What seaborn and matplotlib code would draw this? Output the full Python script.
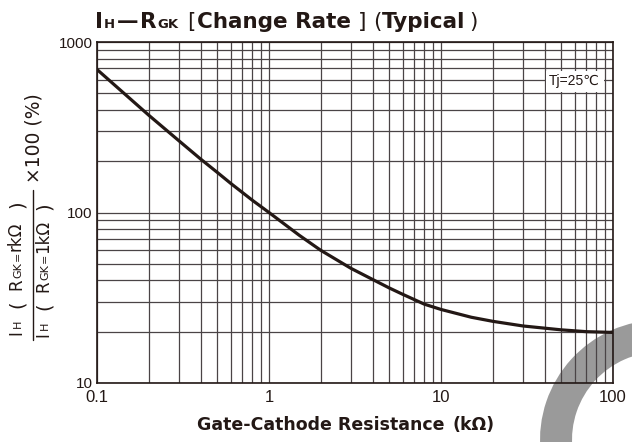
import matplotlib
matplotlib.use("Agg")
import matplotlib.pyplot as plt
import matplotlib.patches as mpatches
import matplotlib.transforms as mtrans
import seaborn as sns
import pandas as pd

# ---- data ----
resistance_kohm = [0.1, 0.2, 0.3, 0.4, 0.5, 0.6, 0.8, 1, 1.5, 2, 3, 4, 5, 6, 8, 10, 15, 20, 30, 50, 70, 100]
change_rate_pct = [690, 372, 263, 206, 172, 148, 118, 100, 73.5, 60, 47, 40.5, 36.1, 33.1, 29.0, 27.0,
                   24.3, 23.0, 21.6, 20.5, 20.0, 19.8]
x_tick_values = [0.1, 1, 10, 100]
x_tick_labels = ["0.1", "1", "10", "100"]
y_tick_values = [10, 100, 1000]
y_tick_labels = ["10", "100", "1000"]

W, H = 632, 442
TXT = "#231815"
LAT = ["DejaVu Sans"]

sns.set_theme(style="white")
plt.rcParams["font.family"] = ["Liberation Sans", "DejaVu Sans"]

fig = plt.figure(figsize=(W / 100, H / 100), dpi=100)
ax = fig.add_axes([97 / W, 1 - 383 / H, (613 - 97) / W, (383 - 42) / H])
ax.patch.set_alpha(0)

df = pd.DataFrame({"R": resistance_kohm, "rate": change_rate_pct})
sns.lineplot(data=df, x="R", y="rate", ax=ax, color=TXT, linewidth=2.3)

ax.set_xscale("log")
ax.set_yscale("log")
ax.set_xlim(0.1, 100)
ax.set_ylim(10, 1000)
ax.grid(True, which="both", color="#4a4446", linewidth=0.9)
ax.set_axisbelow(True)
for s in ax.spines.values():
    s.set_color(TXT)
    s.set_linewidth(1.2)
ax.set_xticks(x_tick_values)
ax.set_xticklabels(x_tick_labels, fontsize=12, color=TXT)
ax.set_yticks(y_tick_values)
ax.set_yticklabels(y_tick_labels, fontsize=11, color=TXT,
                   family=["Liberation Sans Narrow", "Liberation Sans", "DejaVu Sans"])
ax.tick_params(axis="both", which="both", length=0)
ax.tick_params(axis="x", pad=5)
ax.tick_params(axis="y", pad=3)
ax.minorticks_on()
ax.xaxis.set_minor_formatter(matplotlib.ticker.NullFormatter())
ax.yaxis.set_minor_formatter(matplotlib.ticker.NullFormatter())
ax.set_xlabel("")
ax.set_ylabel("")

ax.text(0.975, 0.885, "Tj=25℃", transform=ax.transAxes, ha="right", va="center",
        fontsize=10, color=TXT, family=["Liberation Sans", "DejaVu Sans"],
        bbox=dict(facecolor="white", edgecolor="none", pad=2.5))


def put(x, y, s, size, weight="normal", fam=LAT, rot=0):
    """pixel position (from top-left) of the run's left/baseline anchor"""
    fig.text(x / W, 1 - y / H, s, fontsize=size, fontweight=weight, ha="left", va="baseline",
             rotation=rot, rotation_mode="anchor", color=TXT, family=fam)


# title
TY = 28
put(95, TY, "I", 15.5, "bold")
put(104, TY, "H", 9.5, "bold")
put(117, TY, "—", 15.5, "bold")
put(140, TY, "R", 15.5, "bold")
put(157, TY, "GK", 9.5, "bold")
put(187, TY, "[", 15.5, "normal")
put(197, TY, "Change Rate", 15.5, "bold")
put(358, TY, "]", 15.5, "normal")
put(373, TY, "(", 15.5, "normal")
put(382, TY, "Typical", 15.5, "bold")
put(469, TY, ")", 15.5, "normal")

# x label
put(197, 430, "Gate-Cathode Resistance", 12.5, "bold")
put(452, 430, "(kΩ)", 12.5, "bold")

# y label (rotated fraction)
for bx, y0, mid in [(21, 335, "r"), (48, 337, "1")]:
    put(bx, y0, "I", 12, rot=90)
    put(bx, y0 - 7, "H", 8, rot=90)
    put(bx + 1.5, y0 - 27, "(", 14, rot=90)
    put(bx, y0 - 45, "R", 12, rot=90)
    put(bx, y0 - 57, "GK", 8, rot=90)
    put(bx, y0 - 74, "=", 8, rot=90)
    put(bx, y0 - 84, mid + "kΩ", 12, rot=90)
    put(bx + 1.5, y0 - 127, ")", 14, rot=90)
fig.add_artist(plt.Line2D([33 / W, 33 / W], [1 - 340 / H, 1 - 190 / H], color=TXT,
                          linewidth=1.0, transform=fig.transFigure))
put(39, 183, "×100 (%)", 13.5, rot=90)

# watermark-like grey arc at the lower-right corner (behind the transparent axes)
fig.add_artist(mpatches.Wedge((660, H - 440), 120, 90, 185, width=32, facecolor="#9a9a9a",
                              edgecolor="none", transform=mtrans.IdentityTransform(),
                              clip_on=False, zorder=-1))

fig.savefig("out.png", dpi=100)
